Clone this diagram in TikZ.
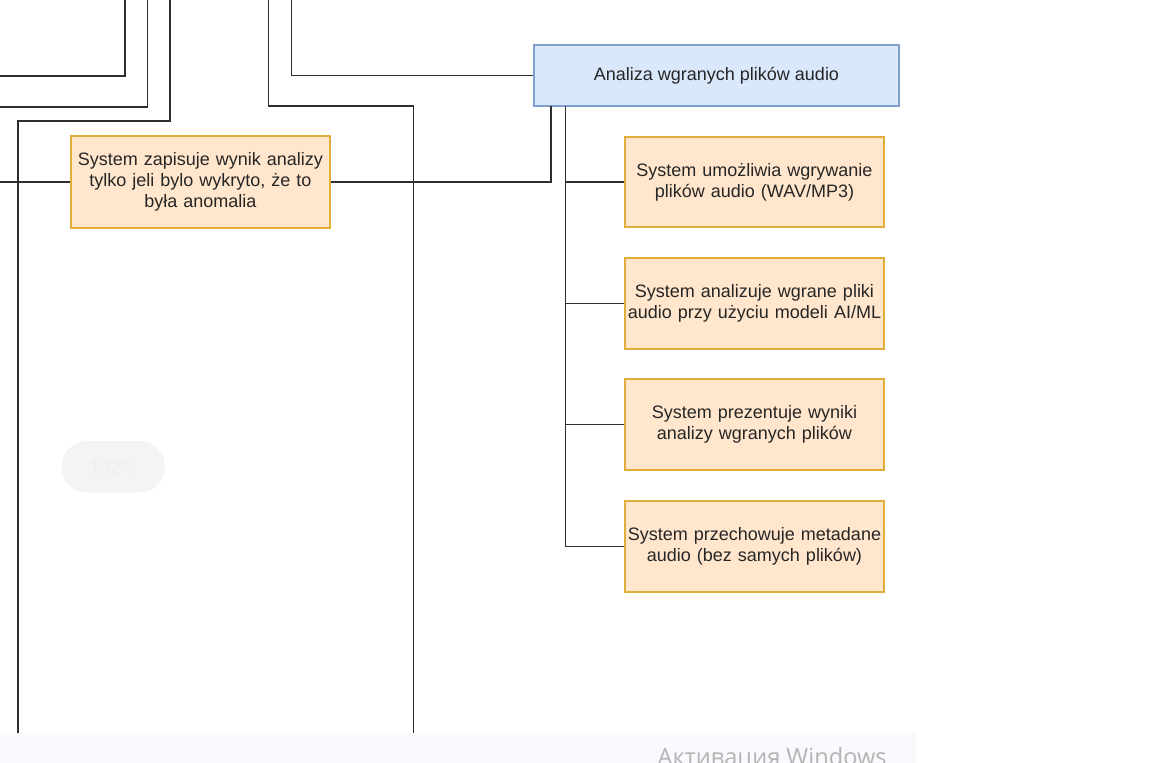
\documentclass[tikz,border=0pt]{standalone}
\usepackage{fontspec}
\setmainfont{Liberation Sans}
\newfontfamily\wmfont{Open Sans}
\begin{document}
\begin{tikzpicture}[x=1pt,y=-1pt,
  conn/.style={draw=linec,line width=1.4pt},
  reqbox/.style={draw=orstroke,fill=orfill,line width=1.2pt,rectangle,inner sep=0pt,
    minimum width=259pt,minimum height=91pt,text width=255pt,align=center,
    font=\fontsize{18}{21}\selectfont,text=txtc},
  headbox/.style={draw=blstroke,fill=blfill,line width=1.2pt,rectangle,inner sep=0pt,
    minimum width=365pt,minimum height=61pt,align=center,
    font=\fontsize{18}{21}\selectfont,text=txtc}]
\definecolor{linec}{HTML}{2E2E2E}
\definecolor{orstroke}{HTML}{E2AE3A}
\definecolor{orfill}{HTML}{FFE6CC}
\definecolor{blstroke}{HTML}{7E9FCF}
\definecolor{blfill}{HTML}{DAE8FC}
\definecolor{txtc}{HTML}{262626}
\definecolor{bandc}{HTML}{F9FAFD}
\definecolor{pillc}{HTML}{F4F4F4}
\definecolor{pilltxt}{HTML}{EEEEEE}
\definecolor{wmc}{HTML}{B4B4B4}
\useasboundingbox (0,0) rectangle (1152,763);
\clip (0,0) rectangle (1152,763);
\fill[white] (0,0) rectangle (1152,763);

% nodes
\node[reqbox,minimum height=92pt] (zap) at (200.5,182) {System zapisuje wynik analizy\\tylko jeli bylo wykryto, że to\\była anomalia};
\node[headbox] (ana) at (716.5,75.5) {Analiza wgranych plików audio};
\node[reqbox,minimum height=90pt] (r1) at (754.5,182) {System umożliwia wgrywanie\\plików audio (WAV/MP3)};
\node[reqbox] (r2) at (754.5,303.5) {System analizuje wgrane pliki\\audio przy użyciu modeli AI/ML};
\node[reqbox] (r3) at (754.5,424.5) {System prezentuje wyniki\\analizy wgranych plików};
\node[reqbox] (r4) at (754.5,546.5) {System przechowuje metadane\\audio (bez samych plików)};

% free ends
\coordinate (a0) at (0,76);
\coordinate (a1) at (125,0);
\coordinate (b0) at (0,107);
\coordinate (b1) at (147.7,0);
\coordinate (c0) at (170,0);
\coordinate (c1) at (18,121);
\coordinate (c2) at (18,733);
\coordinate (d0) at (268.7,0);
\coordinate (d1) at (413.7,106);
\coordinate (d2) at (413.7,733);
\coordinate (e0) at (291.7,0);
\coordinate (f0) at (0,182);
\coordinate (g1) at (551,106);
\coordinate (bus) at (565.7,106);

% connectors
\draw[conn] (a0) -| (a1);
\draw[conn] (b0) -| (b1);
\draw[conn] (c0) |- (c1) -- (c2);
\draw[conn] (d0) |- (d1) -- (d2);
\draw[conn] (e0) |- (ana.west);
\draw[conn] (f0) -- (zap.west);
\draw[conn] (zap.east) -| (g1);
\draw[conn] (bus) |- (r4.west);
\draw[conn] (bus |- r1.west) -- (r1.west);
\draw[conn] (bus |- r2.west) -- (r2.west);
\draw[conn] (bus |- r3.west) -- (r3.west);

% zoom pill
\node[fill=pillc,rounded corners=25pt,minimum width=103pt,minimum height=51.5pt,inner sep=0pt,
  text=pilltxt,font=\fontsize{18}{21}\selectfont] (pill) at (113.3,466.8) {132\%};

% bottom band with watermark
\fill[bandc] (0,733) rectangle (915.5,763);
\node[anchor=north west,inner sep=0pt,text=wmc] (wm) at (657.5,747.5)
  {\resizebox{229pt}{!}{\wmfont Активация Windows}};
\end{tikzpicture}
\end{document}
